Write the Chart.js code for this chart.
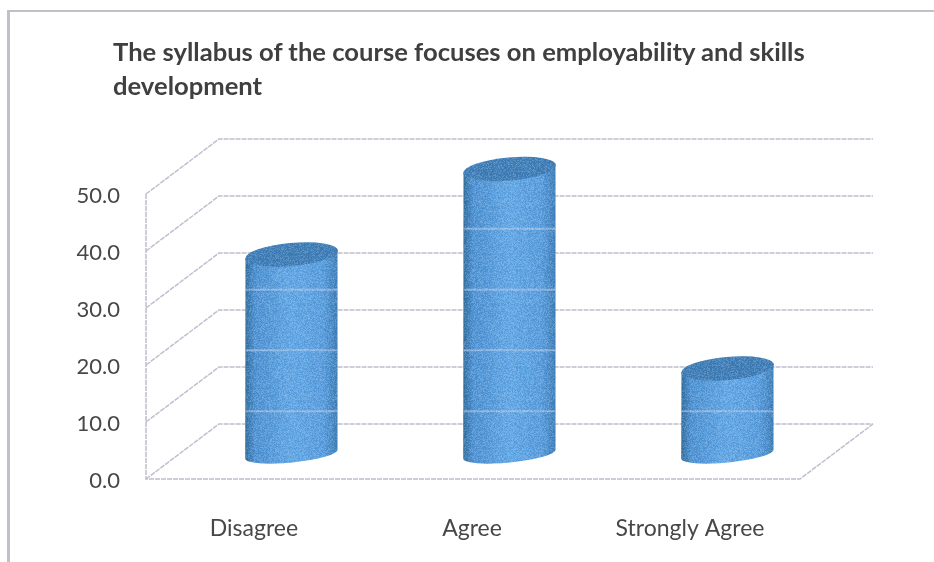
<!DOCTYPE html>
<html>
<head>
<meta charset="utf-8">
<script src="https://cdn.jsdelivr.net/npm/chart.js@4"></script>
<style>
  html, body { margin: 0; background: #fff; }
  #wrap { position: relative; width: 934px; height: 562px; overflow: hidden; }
  #frame { position: absolute; left: 7px; top: 10px; width: 940px; height: 600px; border: 2px solid #c0c0c8; border-left-width: 3px; box-sizing: border-box; }
  #title { position: absolute; left: 113px; top: 34px; width: 760px; font: bold 25.6px/34px Lato, sans-serif; color: #3f3f3f; }
  canvas { position: absolute; left: 0; top: 0; }
</style>
</head>
<body>
<div id="wrap">
  <div id="frame"></div>
  <canvas id="chart" width="934" height="562"></canvas>
  <div id="title">The syllabus of the course focuses on employability and skills<br>development</div>
</div>
<script>
const categories = ['Disagree', 'Agree', 'Strongly Agree'];
const values = [35, 50, 15];
const tickStep = 10;
// pale streaks that run across the cylinders in the picture
const streakLevels = [7.5, 18.2, 28.8, 39.5];

const DEPTH_X = 73;
const DEPTH_Y = -55;
const CYL_WIDTH = 92;
const GRID = '#bfbfd0';
const TEXT = '#474747';

// scan grain for the cylinders, only a texture
function grainPattern(ctx) {
  const tile = document.createElement('canvas');
  tile.width = tile.height = 97;
  const t = tile.getContext('2d');
  for (let i = 0; i < 97; i++) {
    for (let j = 0; j < 97; j++) {
      const h = Math.sin(i * 12.9898 + j * 78.233) * 43758.5453;
      const n = h - Math.floor(h);
      t.fillStyle = n > 0.5 ? `rgba(215,235,255,${(n - 0.5) * 0.45})` : `rgba(20,60,110,${(0.5 - n) * 0.3})`;
      t.fillRect(i, j, 1, 1);
    }
  }
  return ctx.createPattern(tile, 'repeat');
}

function drawWalls(chart) {
  const { ctx, chartArea: a, scales: { y } } = chart;
  ctx.save();
  ctx.strokeStyle = GRID;
  ctx.lineWidth = 1.5;
  ctx.setLineDash([5, 1]);
  y.ticks.forEach(t => {
    const py = y.getPixelForValue(t.value);
    ctx.beginPath();
    ctx.moveTo(a.left, py);
    ctx.lineTo(a.left + DEPTH_X, py + DEPTH_Y);
    ctx.lineTo(a.right + DEPTH_X, py + DEPTH_Y);
    ctx.stroke();
  });
  const y0 = y.getPixelForValue(0);
  ctx.beginPath();
  ctx.moveTo(a.left, a.top);
  ctx.lineTo(a.left, y0);
  ctx.lineTo(a.right, y0);
  ctx.lineTo(a.right + DEPTH_X, y0 + DEPTH_Y);
  ctx.stroke();
  ctx.restore();
}

function drawCylinder(chart, bar, grain) {
  const { ctx, scales: { y } } = chart;
  const lift = DEPTH_Y / 2 + 2.5;
  const cx = bar.x + DEPTH_X / 2;
  const top = bar.y + lift;
  const base = y.getPixelForValue(0) + lift;
  const rx = CYL_WIDTH / 2 + 0.5;
  const l = cx - CYL_WIDTH / 2;
  const r = cx + CYL_WIDTH / 2;
  const tilt = 4.5;

  const side = ctx.createLinearGradient(l, 0, r, 0);
  side.addColorStop(0, '#33709f');
  side.addColorStop(0.1, '#4f93d4');
  side.addColorStop(0.5, '#64aae8');
  side.addColorStop(0.85, '#5a9fe0');
  side.addColorStop(1, '#3f7fb8');

  ctx.save();
  ctx.beginPath();
  ctx.moveTo(l, top + tilt);
  ctx.lineTo(r, top - tilt);
  ctx.lineTo(r, base - tilt);
  ctx.ellipse(cx, base, rx, 8.5, -0.1, 0, Math.PI);
  ctx.closePath();
  ctx.fillStyle = side;
  ctx.fill();
  ctx.clip();
  ctx.strokeStyle = 'rgba(185,205,235,0.6)';
  ctx.lineWidth = 2;
  streakLevels.forEach(v => {
    const py = y.getPixelForValue(v) + lift;
    if (py <= top) return;
    ctx.beginPath();
    ctx.moveTo(l, py);
    ctx.lineTo(r, py);
    ctx.stroke();
  });
  ctx.fillStyle = grain;
  ctx.fillRect(l - 2, top - 20, CYL_WIDTH + 4, base - top + 40);
  ctx.restore();

  ctx.beginPath();
  ctx.ellipse(cx, top, rx, 11.5, -0.09, 0, Math.PI * 2);
  ctx.fillStyle = '#417fb8';
  ctx.fill();
  ctx.fillStyle = grain;
  ctx.fill();
}

const cylinders = {
  id: 'cylinders',
  beforeDatasetsDraw: drawWalls,
  afterDatasetsDraw(chart) {
    const grain = grainPattern(chart.ctx);
    chart.getDatasetMeta(0).data.forEach(bar => drawCylinder(chart, bar, grain));
  },
};

new Chart(document.getElementById('chart'), {
  type: 'bar',
  data: {
    labels: categories,
    datasets: [{ data: values, backgroundColor: 'rgba(0,0,0,0)', borderWidth: 0 }],
  },
  options: {
    responsive: false,
    animation: false,
    layout: { padding: { right: 134, top: 194 } },
    plugins: { legend: { display: false }, tooltip: { enabled: false } },
    scales: {
      x: {
        grid: { display: false },
        border: { display: false },
        ticks: { color: TEXT, font: { family: 'Lato', size: 23 }, padding: 28, labelOffset: -1, maxRotation: 0 },
        afterFit: s => { s.height = 83; },
      },
      y: {
        min: 0,
        max: 50,
        grid: { display: false },
        border: { display: false },
        ticks: { stepSize: tickStep, color: TEXT, font: { family: 'Lato', size: 22 }, padding: 18, labelOffset: 2, callback: v => v.toFixed(1) },
        afterFit: s => { s.width = 146; },
      },
    },
  },
  plugins: [cylinders],
});
</script>
</body>
</html>
